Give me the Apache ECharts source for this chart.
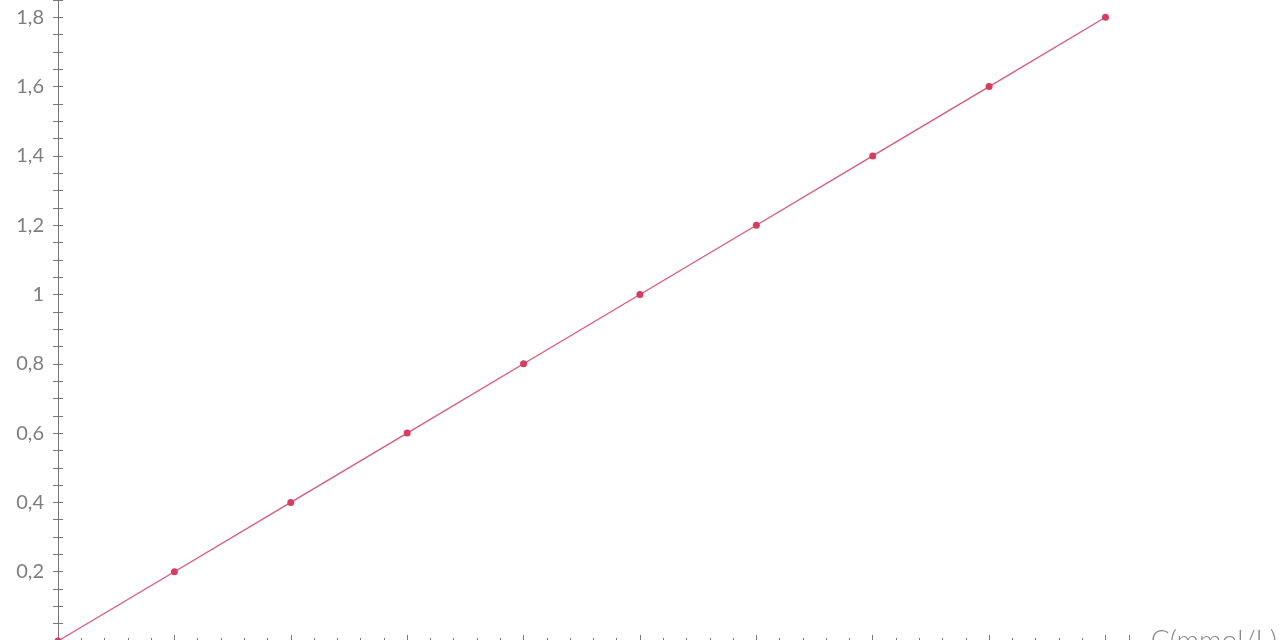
<!doctype html>
<html lang="en">
<head>
    <meta charset="utf-8">
    <title>C(mmol/L)</title>
    <script src="https://cdn.jsdelivr.net/npm/echarts@6/dist/echarts.min.js"></script>
    <style>
        html, body { margin: 0; padding: 0; overflow: hidden; background: #fff; width: 1280px; height: 640px; }
        /* chart is taller than the window so the bottom of the x axis gets cut, like the source */
        #mychart { position: absolute; left: 0; top: -60px; width: 1280px; height: 760px; }
    </style>
</head>
<body>
    <div id="mychart"></div>

    <script type="text/javascript">
        // concentration (mmol/L) and measured value
        var xValues = [0, 1, 2, 3, 4, 5, 6, 7, 8, 9];
        var yValues = [0, 0.2, 0.4, 0.6, 0.8, 1.0, 1.2, 1.4, 1.6, 1.8];
        var yTickLabels = ['0,2', '0,4', '0,6', '0,8', '1', '1,2', '1,4', '1,6', '1,8'];
        var yTickValues = [0.2, 0.4, 0.6, 0.8, 1.0, 1.2, 1.4, 1.6, 1.8];
        var xName = 'C(mmol/L)';

        var axisColor = '#777';
        var points = xValues.map(function (x, i) { return [x, yValues[i]]; });

        function yLabel(v) {
            for (var i = 0; i < yTickValues.length; i++) {
                if (Math.abs(yTickValues[i] - v) < 1e-6) return yTickLabels[i];
            }
            return '';
        }

        var myChart = echarts.init(document.getElementById('mychart'));
        var option = {
            animation: false,
            grid: { left: 58, top: 8, width: 1072, bottom: 59 },
            xAxis: [
                {
                    type: 'value', min: 0, max: 9.2, interval: 1, position: 'bottom',
                    name: xName, nameLocation: 'end', nameGap: 22,
                    nameTextStyle: { color: '#888', fontSize: 28, fontFamily: 'Lato', fontWeight: 300 },
                    axisLine: { show: true, lineStyle: { color: axisColor, width: 1 } },
                    axisTick: { show: true, inside: true, length: 6, lineStyle: { color: axisColor } },
                    minorTick: { show: true, splitNumber: 5, length: 3, lineStyle: { color: axisColor } },
                    axisLabel: { show: true, color: axisColor, fontSize: 20 },
                    splitLine: { show: false }
                },
                {
                    type: 'value', min: 0, max: 9.2, interval: 1, position: 'bottom',
                    axisLine: { show: false },
                    axisTick: { show: true, inside: false, length: 6, lineStyle: { color: axisColor } },
                    minorTick: { show: true, splitNumber: 5, length: 3, lineStyle: { color: axisColor } },
                    axisLabel: { show: false },
                    splitLine: { show: false }
                }
            ],
            yAxis: [
                {
                    type: 'value', min: 0, max: 2, interval: 0.05, position: 'left',
                    axisLine: { show: true, lineStyle: { color: axisColor, width: 1 } },
                    axisTick: { show: true, inside: true, length: 5, lineStyle: { color: axisColor } },
                    axisLabel: {
                        color: '#7d7d7d', fontSize: 20, fontFamily: 'Lato', margin: 14,
                        formatter: yLabel
                    },
                    splitLine: { show: false }
                },
                {
                    type: 'value', min: 0, max: 2, interval: 0.05, position: 'left',
                    axisLine: { show: false },
                    axisTick: { show: true, inside: false, length: 5, lineStyle: { color: axisColor } },
                    axisLabel: { show: false },
                    splitLine: { show: false }
                }
            ],
            series: [
                {
                    type: 'line',
                    xAxisIndex: 0,
                    yAxisIndex: 0,
                    data: points,
                    symbol: 'circle',
                    symbolSize: 7,
                    showSymbol: true,
                    lineStyle: { color: '#d9587a', width: 1.3 },
                    itemStyle: { color: '#d63d5e' }
                }
            ]
        };
        myChart.setOption(option);
    </script>
</body>
</html>
